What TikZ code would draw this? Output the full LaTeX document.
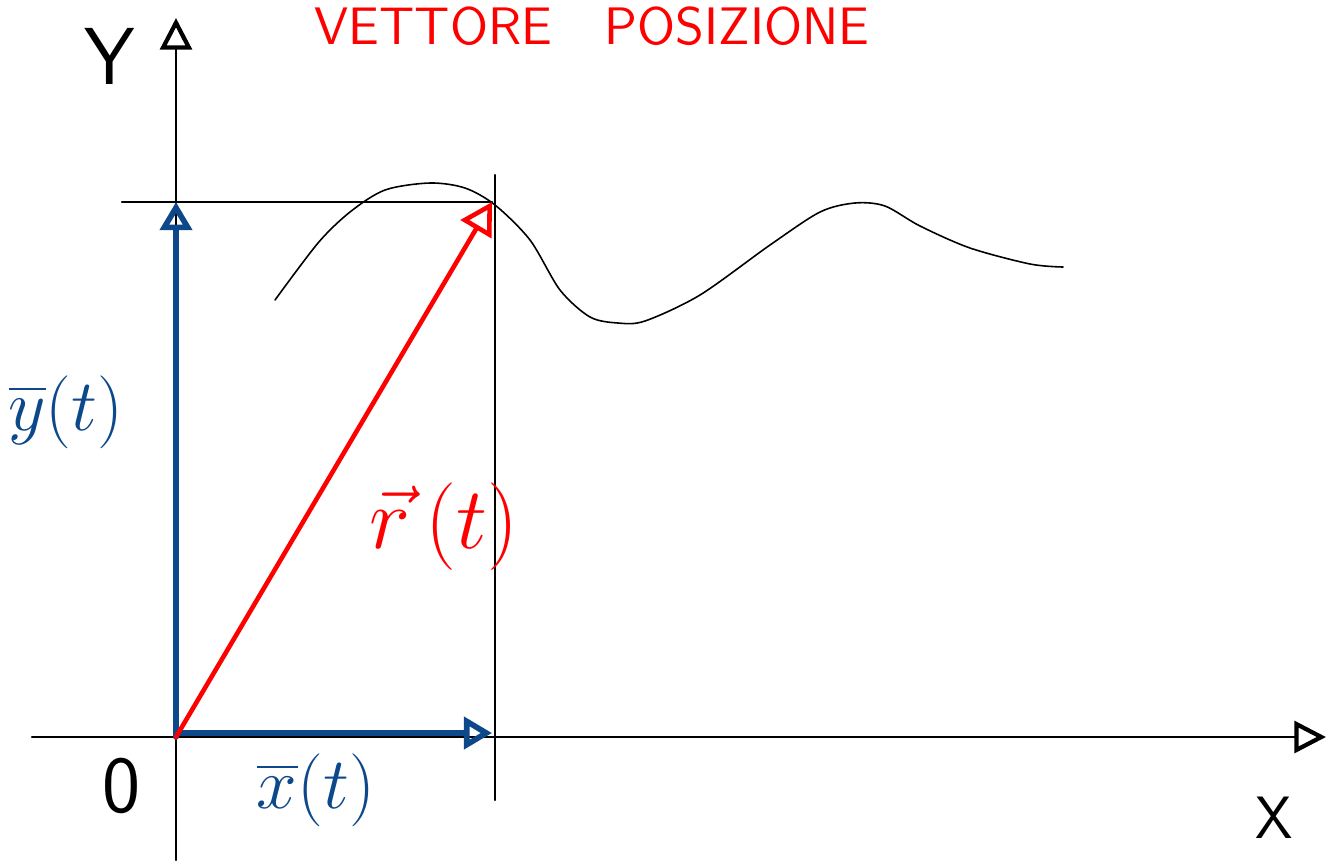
\documentclass[tikz,border=0pt]{standalone}
\usepackage{amsmath}
\usepackage{amssymb}
\usepackage{tikz}
\usetikzlibrary{arrows.meta}

\definecolor{vecblue}{RGB}{12,72,138}
\definecolor{vecred}{RGB}{255,0,0}

\tikzset{
  axis/.style={line width=0.6pt,-{Triangle[open,length=9pt,width=9pt,line width=1.2pt]}},
  guide/.style={line width=0.6pt},
  bluevec/.style={vecblue,line width=1.6pt,-{Triangle[open,length=8pt,width=9pt]}},
  redvec/.style={vecred,line width=1.3pt,-{Triangle[open,length=9pt,width=10pt]}},
  lbl/.style={inner sep=0pt}
}

\begin{document}
\begin{tikzpicture}[x=0.01cm,y=-0.01cm,line cap=round]
        \useasboundingbox (0,0) rectangle (1331,860);

        % points of the picture
        \coordinate (O) at (176,737);
        \coordinate (P) at (492,202);
        \coordinate (Px) at (492,733);
        \coordinate (Py) at (176,202);

        % axes
        \coordinate (xa) at (32,737);
        \coordinate (xb) at (1326,737);
        \coordinate (ya) at (176,860);
        \coordinate (yb) at (176,18);
        \draw[axis] (xa) -- (xb);
        \draw[axis] (ya) -- (yb);

        % guide lines through the point
        \coordinate (ga) at (122,202);
        \coordinate (gb) at (495,175);
        \coordinate (gc) at (495,800);
        \draw[guide] (ga) -- (P);
        \draw[guide] (gb) -- (gc);

        % trajectory
        \draw[line width=0.45pt] plot[smooth,tension=0.5] coordinates {
            (275,300) (318,243) (350,212) (385,190) (430,183) (465,188)
            (495,205) (530,240) (560,290) (590,317) (618,323) (645,321)
            (700,295) (770,245) (820,212) (855,203) (885,206) (920,226)
            (970,248) (1030,264) (1063,267)};

        % components and position vector
        \draw[bluevec] (O) -- (Py);
        \draw[bluevec] (176,733) -- (Px);
        \draw[redvec] (O) -- (P);

        % labels
        \node[lbl,vecred] (title) at (592,26) {\fontsize{15}{15}\selectfont\sffamily VETTORE\quad POSIZIONE};
        \node[lbl] (ylbl) at (110,56) {\fontsize{23}{23}\selectfont\sffamily Y};
        \node[lbl] (xlbl) at (1274,818) {\fontsize{17}{17}\selectfont\sffamily X};
        \node[lbl] (olbl) at (122,786) {\fontsize{23}{23}\selectfont\sffamily 0};
        \node[lbl,vecred] (rlbl) at (444,527) {\fontsize{26}{26}\selectfont$\vec{r}\,(t)$};
        \node[lbl,vecblue] (yt) at (66,412) {\fontsize{20}{20}\selectfont$\overline{y}(t)$};
        \node[lbl,vecblue] (xt) at (316,790) {\fontsize{20}{20}\selectfont$\overline{x}(t)$};
    \end{tikzpicture}
\end{document}
